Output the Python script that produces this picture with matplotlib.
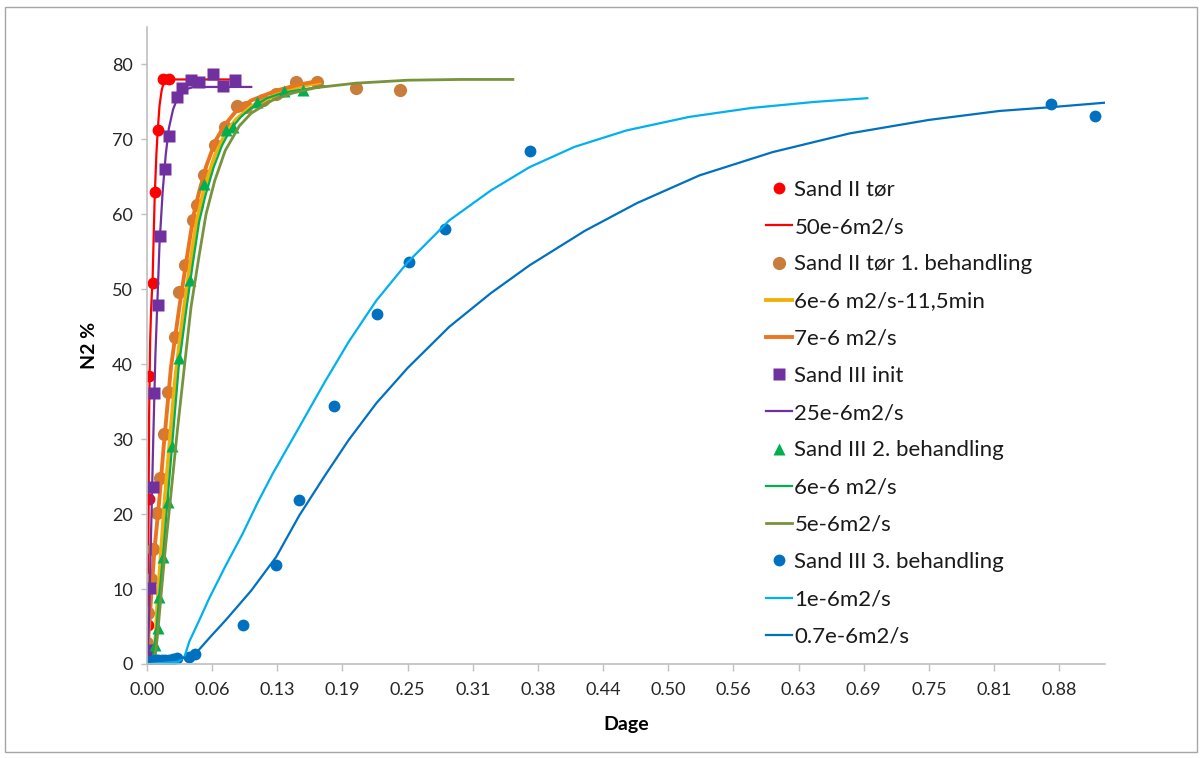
import numpy as np
import matplotlib.pyplot as plt
from matplotlib.patches import Rectangle

plt.rcParams['font.family'] = ['Lato', 'DejaVu Sans']

# Sand II tør (målt)
s2_x = [0.0, 0.001, 0.0015, 0.0022, 0.0054, 0.0073, 0.0102, 0.015, 0.0207]
s2_y = [0.5, 5.2, 22.0, 38.4, 50.9, 63.0, 71.3, 78.0, 78.0]
# 50e-6 m2/s
m50_x = [0.0, 0.0005, 0.001, 0.0015, 0.002, 0.003, 0.004, 0.0054, 0.0073, 0.009, 0.0102,
         0.012, 0.014, 0.016, 0.02, 0.04, 0.08]
m50_y = [0.0, 3.0, 8.0, 20.0, 33.0, 43.0, 47.5, 51.5, 62.0, 68.0, 71.0,
         74.5, 76.5, 77.6, 78.0, 78.0, 78.0]

# Sand II tør 1. behandling
s21_x = [0.0, 0.0012, 0.0038, 0.0058, 0.0092, 0.0125, 0.0166, 0.0204, 0.0272, 0.031,
         0.0368, 0.0445, 0.0476, 0.055, 0.0653, 0.075, 0.086, 0.095, 0.111, 0.124,
         0.143, 0.163, 0.2006, 0.243]
s21_y = [2.8, 6.8, 11.4, 15.4, 20.2, 24.8, 30.7, 36.3, 43.6, 49.6,
         53.3, 59.2, 61.2, 65.2, 69.3, 71.6, 74.5, 74.3, 75.2, 76.0,
         77.6, 77.6, 76.8, 76.6]
# 6e-6 m2/s - 11,5 min
m6b_x = [0.006, 0.008, 0.010, 0.0135, 0.017, 0.022, 0.027, 0.034, 0.041, 0.0475,
         0.055, 0.065, 0.075, 0.085, 0.10, 0.124, 0.145, 0.165]
m6b_y = [0.0, 3.0, 8.0, 15.0, 21.9, 30.0, 38.0, 46.0, 53.0, 59.0,
         63.5, 67.8, 70.7, 72.6, 74.4, 76.0, 77.0, 77.6]
# 7e-6 m2/s
m7_x = [0.0, 0.0015, 0.004, 0.007, 0.0118, 0.016, 0.023, 0.031, 0.038, 0.0448,
        0.05, 0.057, 0.066, 0.075, 0.085, 0.10, 0.124, 0.145, 0.165]
m7_y = [0.5, 4.0, 9.0, 15.0, 21.9, 29.0, 39.6, 47.6, 54.0, 60.0,
        63.0, 66.5, 69.9, 72.0, 73.7, 75.2, 76.5, 77.3, 77.8]

# Sand III init
s3_x = [0.0, 0.003, 0.0054, 0.007, 0.0102, 0.0121, 0.0176, 0.0207, 0.0284, 0.0332,
        0.0422, 0.0495, 0.063, 0.0732, 0.084]
s3_y = [1.9, 10.2, 23.6, 36.2, 47.9, 57.1, 66.0, 70.4, 75.7, 76.8,
        77.9, 77.6, 78.7, 77.1, 77.9]
# 25e-6 m2/s
m25_x = [0.0, 0.002, 0.004, 0.006, 0.008, 0.010, 0.012, 0.015, 0.018, 0.021,
         0.025, 0.030, 0.035, 0.045, 0.06, 0.10]
m25_y = [0.0, 6.0, 18.0, 30.0, 41.0, 48.5, 56.0, 63.0, 68.0, 71.5,
         74.0, 75.8, 76.6, 77.0, 77.0, 77.0]

# Sand III 2. behandling
s32_x = [0.0, 0.0073, 0.0102, 0.0118, 0.0157, 0.0204, 0.024, 0.031, 0.0413, 0.055,
         0.0758, 0.0829, 0.106, 0.131, 0.150]
s32_y = [0.0, 2.5, 4.8, 9.0, 14.3, 21.6, 29.1, 40.8, 51.2, 64.0,
         71.2, 71.6, 75.0, 76.4, 76.6]
# 6e-6 m2/s
m6_x = [0.005, 0.0086, 0.012, 0.016, 0.0198, 0.024, 0.0304, 0.038, 0.044, 0.05,
        0.056, 0.064, 0.072, 0.08, 0.09, 0.10, 0.115, 0.13, 0.146, 0.17]
m6_y = [0.0, 4.0, 9.5, 15.5, 22.0, 29.0, 39.6, 47.6, 53.5, 59.0,
        62.5, 66.3, 69.2, 71.3, 73.0, 74.2, 75.5, 76.2, 76.6, 77.1]
# 5e-6 m2/s
m5_x = [0.007, 0.0102, 0.014, 0.018, 0.0224, 0.029, 0.0358, 0.0422, 0.05, 0.0566,
        0.065, 0.075, 0.0886, 0.10, 0.12, 0.14, 0.162, 0.20, 0.25, 0.30, 0.351]
m5_y = [0.0, 4.0, 10.0, 16.0, 21.9, 31.0, 39.6, 47.6, 54.5, 60.0,
        64.5, 68.5, 71.8, 73.5, 75.2, 76.2, 76.9, 77.5, 77.9, 78.0, 78.0]

# Sand III 3. behandling
s33_x = [0.0, 0.001, 0.002, 0.003, 0.004, 0.005, 0.007, 0.009, 0.011, 0.014,
         0.017, 0.021, 0.025, 0.029, 0.040, 0.046, 0.0925, 0.124, 0.1455, 0.179,
         0.221, 0.251, 0.286, 0.367, 0.867, 0.909]
s33_y = [0.2, 0.2, 0.3, 0.3, 0.3, 0.4, 0.4, 0.5, 0.5, 0.5,
         0.6, 0.6, 0.7, 0.8, 0.9, 1.3, 5.2, 13.2, 21.9, 34.4,
         46.7, 53.6, 58.0, 68.4, 74.7, 73.1]
# 1e-6 m2/s
m1_x = [0.0, 0.03, 0.036, 0.0406, 0.05, 0.0598, 0.075, 0.0918, 0.106, 0.1206,
        0.146, 0.17, 0.1935, 0.22, 0.25, 0.29, 0.33, 0.367, 0.41, 0.46,
        0.52, 0.58, 0.64, 0.691]
m1_y = [0.0, 0.3, 1.0, 3.0, 5.8, 8.8, 13.0, 17.4, 21.5, 25.4,
        31.6, 37.5, 43.0, 48.5, 53.6, 59.2, 63.2, 66.3, 69.0, 71.2,
        73.0, 74.2, 75.0, 75.5]
# 0.7e-6 m2/s
m07_x = [0.0, 0.04, 0.046, 0.06, 0.0758, 0.10, 0.124, 0.146, 0.17, 0.1935,
         0.22, 0.25, 0.29, 0.33, 0.367, 0.42, 0.47, 0.53, 0.60, 0.674,
         0.75, 0.818, 0.867, 0.919]
m07_y = [0.3, 0.9, 1.3, 3.5, 5.9, 9.8, 14.3, 19.8, 25.0, 29.9,
         34.8, 39.5, 45.0, 49.5, 53.2, 57.8, 61.5, 65.2, 68.3, 70.8,
         72.6, 73.8, 74.3, 74.9]

x_ticks = np.arange(15) * 0.0625
x_labels = ['0.00', '0.06', '0.13', '0.19', '0.25', '0.31', '0.38', '0.44',
            '0.50', '0.56', '0.63', '0.69', '0.75', '0.81', '0.88']

fig = plt.figure(figsize=(12.04, 7.58), dpi=100)
ax = fig.add_axes([147 / 1204, 94 / 758, 958 / 1204, 637 / 758])

ax.plot(s2_x, s2_y, 'o', color='#FF0000', ms=8.5, mec='none', label='Sand II tør')
ax.plot(m50_x, m50_y, '-', color='#FF0000', lw=1.6, label='50e-6m2/s')
ax.plot(s21_x, s21_y, 'o', color='#C97D3D', ms=9.5, mec='none', label='Sand II tør 1. behandling')
ax.plot(m6b_x, m6b_y, '-', color='#F2B10A', lw=2.8, label='6e-6 m2/s-11,5min')
ax.plot(m7_x, m7_y, '-', color='#EA7521', lw=2.8, label='7e-6 m2/s')
ax.plot(s3_x, s3_y, 's', color='#7030A0', ms=8, mec='none', label='Sand III init')
ax.plot(m25_x, m25_y, '-', color='#7030A0', lw=1.6, label='25e-6m2/s')
ax.plot(s32_x, s32_y, '^', color='#00B050', ms=9, mec='none', label='Sand III 2. behandling')
ax.plot(m6_x, m6_y, '-', color='#00B050', lw=1.6, label='6e-6 m2/s')
ax.plot(m5_x, m5_y, '-', color='#77933C', lw=2.0, label='5e-6m2/s')
ax.plot(s33_x, s33_y, 'o', color='#0070C0', ms=8.5, mec='none', label='Sand III 3. behandling')
ax.plot(m1_x, m1_y, '-', color='#00B0F0', lw=1.6, label='1e-6m2/s')
ax.plot(m07_x, m07_y, '-', color='#0070C0', lw=1.6, label='0.7e-6m2/s')

ax.set_xlim(0, 0.919)
ax.set_ylim(0, 85)
ax.set_xticks(x_ticks)
ax.set_xticklabels(x_labels)
ax.set_yticks(range(0, 81, 10))
for s in ['top', 'right']:
    ax.spines[s].set_visible(False)
for s in ['left', 'bottom']:
    ax.spines[s].set_color('#BFBFBF')
    ax.spines[s].set_linewidth(1.2)
ax.tick_params(axis='x', colors='#BFBFBF', labelcolor='#262626', labelsize=13,
               length=5, width=1, pad=8)
ax.tick_params(axis='y', colors='#BFBFBF', labelcolor='#262626', labelsize=13,
               length=4, width=1, pad=6)
ax.set_xlabel('Dage', fontsize=14, fontweight='bold', color='#000000', labelpad=13)
ax.set_ylabel('N2 %', fontsize=14, fontweight='bold', color='#000000', labelpad=10)

leg = ax.legend(loc='upper left', bbox_to_anchor=(0.637, 0.774), frameon=False,
                fontsize=16, handlelength=1.15, handletextpad=0.12,
                labelspacing=0.775, numpoints=1, borderaxespad=0)
for t in leg.get_texts():
    t.set_color('#1a1a1a')

fig.patches.append(Rectangle((5 / 1204, 6 / 758), 1192 / 1204, 745 / 758,
                             transform=fig.transFigure, fill=False,
                             edgecolor='#A6A6A6', lw=1.0))

fig.savefig('out.png', dpi=100)
